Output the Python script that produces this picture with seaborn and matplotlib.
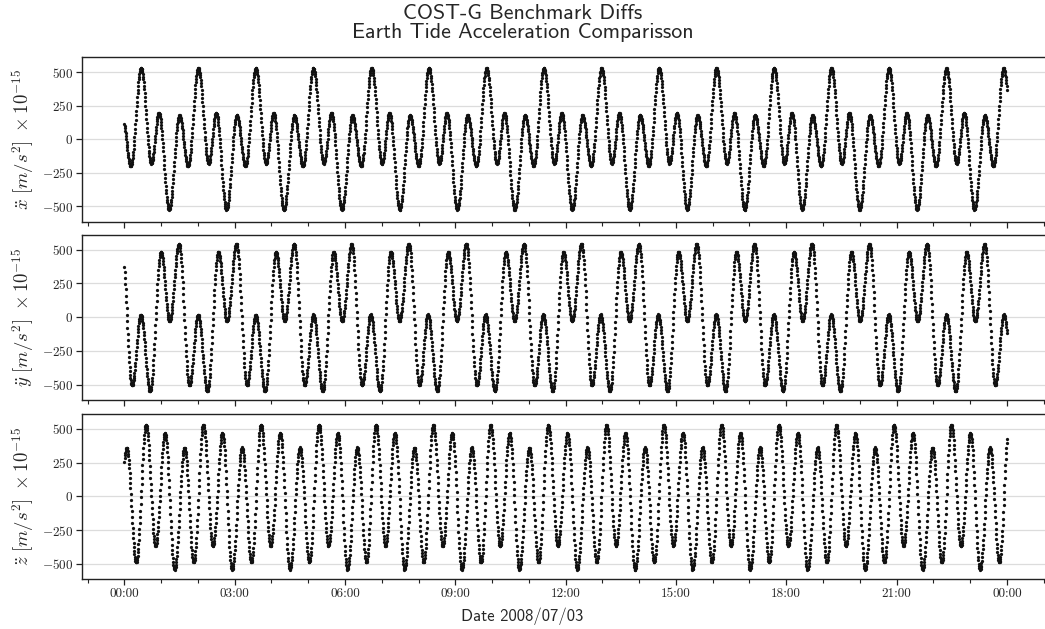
import numpy as np
import pandas as pd
import matplotlib
matplotlib.use("Agg")
import matplotlib.pyplot as plt
import matplotlib.dates as mdates
import seaborn as sns
from matplotlib.ticker import FuncFormatter, FixedLocator

# ---------------- data ----------------
DAY = pd.Timestamp("2008-07-03")
SAMPLE_S = 30             # spacing of the plotted samples (seconds)

# x-acceleration: times (h) of the large +530 peaks (first entry: orbit before 00:00),
# and the 6 extrema of one orbit (phase as fraction of an orbit, value)
x_ref_h = [-1.110, 0.454, 2.011, 3.572, 5.137, 6.725, 8.282, 9.851, 11.408, 12.976,
           14.542, 16.102, 17.668, 19.228, 20.793, 22.354, 23.911, 25.475]
x_phase = [0.00, 0.18, 0.31, 0.49, 0.67, 0.82]
x_vals = [530, -182, 195, -525, 178, -200]

# y-acceleration: times (h) of the deep -550 troughs
y_ref_h = [-0.865, 0.699, 2.256, 3.824, 5.393, 6.950, 8.508, 10.076, 11.645, 13.202,
           14.770, 16.347, 17.912, 19.472, 21.038, 22.606, 24.170]
y_phase = [0.00, 0.19, 0.34, 0.504, 0.687, 0.838]
y_vals = [-550, 485, -30, 545, -507, 20]

# z-acceleration: times (h) of the +530 peaks
z_ref_h = [-1.020, 0.590, 2.147, 3.716, 5.292, 6.841, 8.399, 9.959, 11.525, 13.112,
           14.669, 16.238, 17.796, 19.364, 20.930, 22.490, 24.054]
z_phase = [0.00, 0.165, 0.33, 0.498, 0.672, 0.832]
z_vals = [530, -368, 468, -543, 362, -490]

y_ticks = [-500, -250, 0, 250, 500]
labels = [r"$\ddot{x}\ [m/s^2]\ \times 10^{-15}$",
          r"$\ddot{y}\ [m/s^2]\ \times 10^{-15}$",
          r"$\ddot{z}\ [m/s^2]\ \times 10^{-15}$"]


def extrema(ref_h, phase, vals):
    tt, vv = [], []
    for r, r_next in zip(ref_h[:-1], ref_h[1:]):
        span = r_next - r
        for p, v in zip(phase, vals):
            tt.append(r + p * span)
            vv.append(v)
    tt.append(ref_h[-1])
    vv.append(vals[0])
    return np.array(tt), np.array(vv, dtype=float)


def samples(ref_h, phase, vals):
    te, ve = extrema(ref_h, phase, vals)
    t = np.arange(0, 24 * 3600 + 1, SAMPLE_S) / 3600.0
    k = np.searchsorted(te, t, side="right") - 1
    u = (t - te[k]) / (te[k + 1] - te[k])
    v = ve[k] + (ve[k + 1] - ve[k]) * (1 - np.cos(np.pi * u)) / 2
    return t, v


t, xa = samples(x_ref_h, x_phase, x_vals)
_, ya = samples(y_ref_h, y_phase, y_vals)
_, za = samples(z_ref_h, z_phase, z_vals)
df = pd.DataFrame({"time": DAY + pd.to_timedelta(t, unit="h"),
                   "x": xa, "y": ya, "z": za})

# ---------------- figure ----------------
sns.set_theme(style="ticks")
plt.rcParams["mathtext.fontset"] = "cm"
plt.rcParams["axes.unicode_minus"] = False

W, H = 1045, 629
fig = plt.figure(figsize=(W / 100, H / 100), dpi=100)

left_px, right_px = 81.7, 1051.0
panels_px = [(57.3, 221.7), (235.0, 400.0), (414.0, 579.3)]

xmin = DAY - pd.Timedelta(hours=1.16)
xmax = DAY + pd.Timedelta(hours=25.2)

for i, (col, lab) in enumerate(zip(["x", "y", "z"], labels)):
    top, bot = panels_px[i]
    ax = fig.add_axes([left_px / W, 1 - bot / H, (right_px - left_px) / W, (bot - top) / H])
    sns.scatterplot(data=df, x="time", y=col, ax=ax, s=5.5, color="#111111",
                    linewidth=0, alpha=1.0, legend=False)
    ax.set_xlim(xmin, xmax)
    ax.set_ylim(-615, 610)
    ax.yaxis.set_major_locator(FixedLocator(y_ticks))
    ax.yaxis.set_major_formatter(FuncFormatter(lambda v, p: r"$%d$" % v))
    ax.grid(axis="y", color="#dcdcdc", linewidth=0.9)
    ax.grid(axis="x", visible=False)
    ax.set_axisbelow(True)
    for s in ax.spines.values():
        s.set_visible(True)
        s.set_color("#222222")
        s.set_linewidth(1.0)
    ax.xaxis.set_major_locator(mdates.HourLocator(byhour=range(0, 24, 3)))
    ax.xaxis.set_minor_locator(mdates.HourLocator())
    ax.xaxis.set_major_formatter(mdates.DateFormatter("%H:%M"))
    ax.tick_params(axis="both", which="major", direction="out", length=4, width=0.9,
                   color="#222222", pad=2)
    ax.tick_params(axis="y", labelsize=9.5)
    ax.tick_params(axis="x", labelsize=9.5, pad=2)
    ax.tick_params(axis="x", which="minor", direction="out", length=3, width=0.8,
                   color="#222222")
    for tl in ax.get_xticklabels():
        tl.set_fontfamily("cmr10")
    if i < 2:
        ax.tick_params(axis="x", labelbottom=False)
    ax.set_xlabel("")
    ax.set_ylabel(lab, fontsize=13.5, labelpad=4)

fig.suptitle("COST-G Benchmark Diffs\nEarth Tide Acceleration Comparisson",
             fontfamily="cmss10", fontsize=15.8, y=0.993, linespacing=1.0)
fig.supxlabel("Date 2008/07/03", fontfamily="cmss10", fontsize=12, y=0.006)

fig.savefig("out.png", dpi=100)
